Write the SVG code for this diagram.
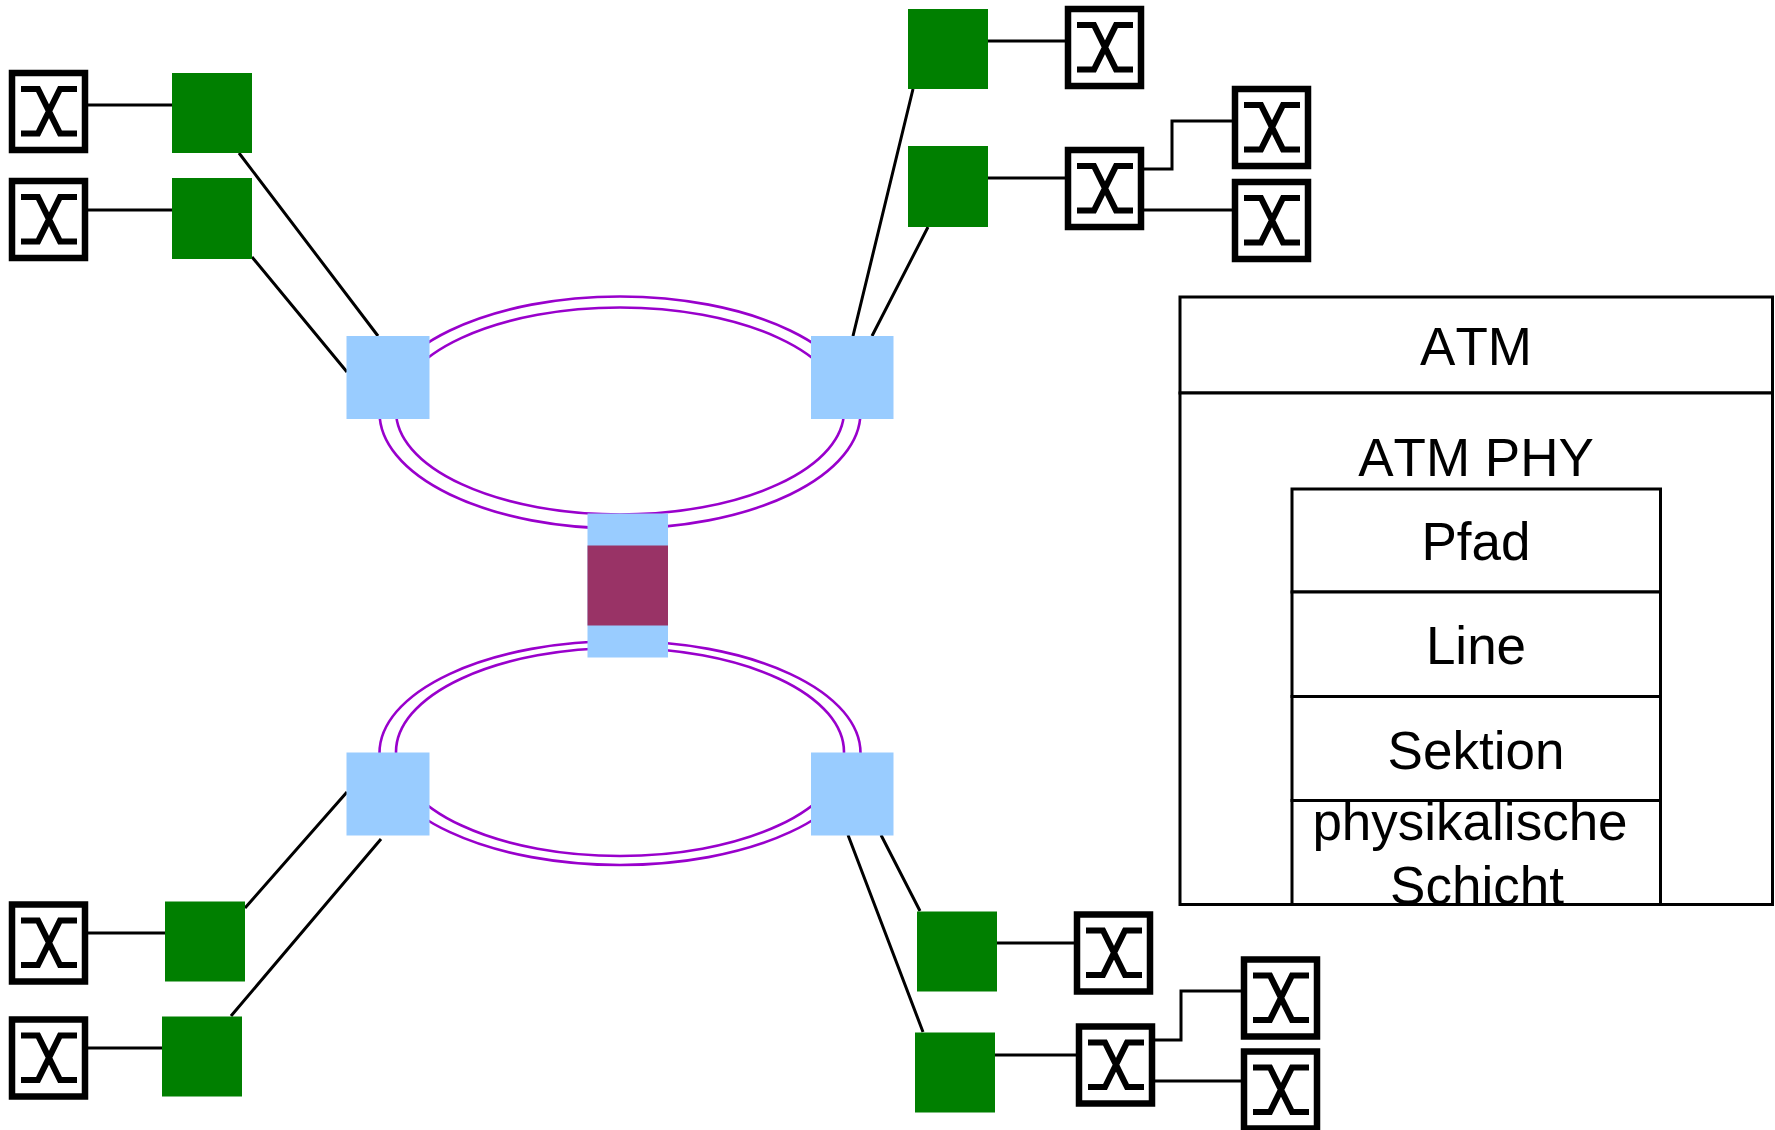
<svg xmlns="http://www.w3.org/2000/svg" xmlns:xlink="http://www.w3.org/1999/xlink" width="1775" height="1130" viewBox="0 0 1775 1130">
<style>
.bg{fill:#fff}
.sw{fill:#007f00}
.hub{fill:#99ccff}
.core{fill:#993366}
.ring{fill:none;stroke:#9900cc;stroke-width:2.6}
.link{fill:none;stroke:#000;stroke-width:3}
.cell{fill:#fff;stroke:#000;stroke-width:3}
.box{fill:#fff;stroke:#000;stroke-width:6.5}
.glyph{fill:none;stroke:#000;stroke-width:6.2}
text{font-family:"Liberation Sans",Arial,sans-serif;font-size:53px;font-kerning:none;fill:#000;text-anchor:middle}
</style>
<defs>
<g id="x-node">
<rect class="box" x="3" y="3" width="73" height="77"/>
<path class="glyph" d="M12 19H29L51 63.500H68M68 19H51L29 63.500H12"/>
</g>
</defs>
<rect class="bg" width="1775" height="1130"/>
<g id="connectors">
<ellipse class="ring" cx="620" cy="412.500" rx="240.500" ry="116"/>
<ellipse class="ring" cx="620" cy="411" rx="224" ry="103.500"/>
<ellipse class="ring" cx="620" cy="753" rx="240.500" ry="112"/>
<ellipse class="ring" cx="620" cy="752" rx="224" ry="104"/>
<path class="link" d="M88 105H172M88 210H172M239 153L378 336M252 257L347 372"/>
<path class="link" d="M988 41H1065M988 178H1065M1144 169H1172V121H1232M1137 210H1232M913 89L853 336M928 227L872 336"/>
<path class="link" d="M88 933H165M88 1048H162M245 908L347 792M231 1016L381 839"/>
<path class="link" d="M997 943H1074M995 1055H1076M1155 1040H1181V991H1241M1155 1081H1241M848 835L923 1032M881 835L920 911"/>
</g>
<g id="hub-tl"><rect class="hub" x="346.500" y="336" width="83" height="83"/></g>
<g id="hub-tr"><rect class="hub" x="811" y="336" width="82.500" height="83"/></g>
<g id="hub-bl"><rect class="hub" x="346.500" y="752.500" width="83" height="83"/></g>
<g id="hub-br"><rect class="hub" x="811" y="752.500" width="82.500" height="83"/></g>
<g id="core-node">
<rect class="hub" x="587.500" y="513.500" width="80.500" height="144"/>
<rect class="core" x="587.500" y="545.500" width="80.500" height="80"/>
</g>
<g id="sw1"><rect class="sw" x="172" y="73" width="80" height="80"/></g>
<g id="sw2"><rect class="sw" x="172" y="178" width="80" height="81"/></g>
<g id="sw3"><rect class="sw" x="908" y="9" width="80" height="80"/></g>
<g id="sw4"><rect class="sw" x="908" y="146" width="80" height="81"/></g>
<g id="sw5"><rect class="sw" x="165" y="901.500" width="80" height="80"/></g>
<g id="sw6"><rect class="sw" x="162" y="1016.500" width="80" height="80"/></g>
<g id="sw7"><rect class="sw" x="917" y="911.500" width="80" height="80"/></g>
<g id="sw8"><rect class="sw" x="915" y="1032.500" width="80" height="80"/></g>
<g id="ep1"><use xlink:href="#x-node" href="#x-node" x="9" y="70"/></g>
<g id="ep2"><use xlink:href="#x-node" href="#x-node" x="9" y="178"/></g>
<g id="ep3"><use xlink:href="#x-node" href="#x-node" x="1065" y="6"/></g>
<g id="ep4"><use xlink:href="#x-node" href="#x-node" x="1065" y="147"/></g>
<g id="ep5"><use xlink:href="#x-node" href="#x-node" x="1232" y="86"/></g>
<g id="ep6"><use xlink:href="#x-node" href="#x-node" x="1232" y="179"/></g>
<g id="ep7"><use xlink:href="#x-node" href="#x-node" x="9" y="901.500"/></g>
<g id="ep8"><use xlink:href="#x-node" href="#x-node" x="9" y="1016.500"/></g>
<g id="ep9"><use xlink:href="#x-node" href="#x-node" x="1074" y="911.500"/></g>
<g id="ep10"><use xlink:href="#x-node" href="#x-node" x="1076" y="1023.500"/></g>
<g id="ep11"><use xlink:href="#x-node" href="#x-node" x="1241" y="956.500"/></g>
<g id="ep12"><use xlink:href="#x-node" href="#x-node" x="1241" y="1048.500"/></g>
<g id="stack-atm">
<rect class="cell" x="1180" y="297" width="592.500" height="96"/>
<text x="1476" y="365">ATM</text>
</g>
<g id="stack-phy">
<rect class="cell" x="1180" y="393" width="592.500" height="511.500"/>
<text x="1476" y="476">ATM PHY</text>
</g>
<g id="stack-pfad">
<rect class="cell" x="1292" y="489" width="368.500" height="103"/>
<text x="1476" y="560">Pfad</text>
</g>
<g id="stack-line">
<rect class="cell" x="1292" y="592" width="368.500" height="104.500"/>
<text x="1476" y="664">Line</text>
</g>
<g id="stack-sektion">
<rect class="cell" x="1292" y="696.500" width="368.500" height="104"/>
<text x="1476" y="768.500">Sektion</text>
</g>
<g id="stack-phys">
<rect class="cell" x="1292" y="800.500" width="368.500" height="104"/>
<text x="1470" y="840">physikalische</text>
<text x="1477" y="903.500">Schicht</text>
</g>
</svg>
